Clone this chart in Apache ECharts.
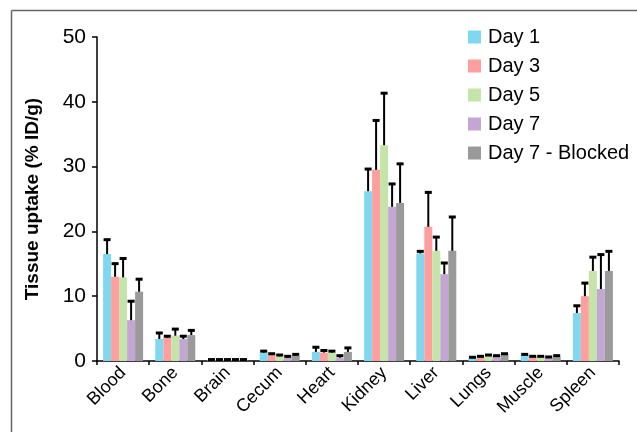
<!DOCTYPE html>
<html>
<head>
<meta charset="utf-8">
<script src="https://cdn.jsdelivr.net/npm/echarts@6/dist/echarts.min.js"></script>
<style>
html,body{margin:0;padding:0;background:#fff;}
#chart{width:637px;height:432px;}
</style>
</head>
<body>
<div id="chart"></div>
<script>
const categories = ['Blood','Bone','Brain','Cecum','Heart','Kidney','Liver','Lungs','Muscle','Spleen'];
const seriesNames = ['Day 1','Day 3','Day 5','Day 7','Day 7 - Blocked'];
const colors = ['#80d8f0','#ff9e9e','#c5e4aa','#c4a6d4','#9a9a9a'];
const day1 = [16.5, 3.4, 0.2, 1.3, 1.4, 26.2, 16.6, 0.5, 0.9, 7.4];
const day3 = [13.0, 3.6, 0.2, 0.9, 1.3, 29.5, 20.7, 0.65, 0.65, 10.0];
const day5 = [12.9, 3.9, 0.2, 0.7, 1.3, 33.3, 17.0, 0.8, 0.65, 13.9];
const day7 = [6.3, 3.4, 0.2, 0.5, 0.5, 23.8, 13.4, 0.75, 0.5, 11.1];
const day7b = [10.7, 4.0, 0.2, 0.8, 1.4, 24.4, 17.0, 1.0, 0.6, 13.9];
const day1Err = [18.8, 4.4, 0.3, 1.6, 2.2, 29.7, 17.0, 0.65, 1.1, 8.6];
const day3Err = [15.1, 3.9, 0.3, 1.2, 1.7, 37.2, 26.1, 0.8, 0.8, 12.1];
const day5Err = [15.9, 5.0, 0.3, 1.0, 1.6, 41.4, 19.2, 1.0, 0.8, 16.1];
const day7Err = [9.3, 3.9, 0.3, 0.8, 0.9, 27.4, 15.2, 0.9, 0.7, 16.5];
const day7bErr = [12.7, 4.8, 0.3, 1.1, 2.1, 30.5, 22.3, 1.2, 0.9, 17.0];
const yTicks = [0, 10, 20, 30, 40, 50];

const values = [day1, day3, day5, day7, day7b];
const errTops = [day1Err, day3Err, day5Err, day7Err, day7bErr];
const BAR_W = 8;

const chart = echarts.init(document.getElementById('chart'), null, {renderer: 'canvas'});

const barSeries = seriesNames.map((name, i) => ({
  name: name,
  type: 'bar',
  data: values[i],
  barWidth: BAR_W,
  barGap: '0%',
  itemStyle: {color: colors[i]},
  z: 2
}));

const errSeries = seriesNames.map((name, i) => ({
  type: 'custom',
  name: name + ' err',
  z: 3,
  silent: true,
  data: categories.map((c, k) => [k, values[i][k], errTops[i][k]]),
  renderItem: function (params, api) {
    const k = api.value(0);
    const base = api.coord([k, api.value(1)]);
    const top = api.coord([k, api.value(2)]);
    const x = base[0] + (i - 2) * BAR_W;
    return {
      type: 'group',
      children: [
        {type: 'line', shape: {x1: x, y1: base[1], x2: x, y2: top[1]}, style: {stroke: '#000', lineWidth: 2}},
        {type: 'rect', shape: {x: x - 3.5, y: top[1] - 1, width: 7, height: 3}, style: {fill: '#000'}}
      ]
    };
  }
}));

chart.setOption({
  animation: false,
  backgroundColor: '#fff',
  textStyle: {fontFamily: 'Liberation Sans, Arial, sans-serif'},
  graphic: [
    {type: 'line', shape: {x1: 11.5, y1: 10.5, x2: 637, y2: 10.5}, style: {stroke: '#666', lineWidth: 1.5}},
    {type: 'line', shape: {x1: 11.5, y1: 10.5, x2: 11.5, y2: 432}, style: {stroke: '#666', lineWidth: 1.5}}
  ],
  legend: {
    data: seriesNames,
    orient: 'vertical',
    left: 468,
    top: 27,
    padding: 0,
    itemWidth: 13,
    itemHeight: 13,
    itemGap: 9,
    icon: 'rect',
    textStyle: {fontSize: 20, color: '#000', fontFamily: 'Liberation Sans, Arial, sans-serif', padding: [0,0,0,2]}
  },
  grid: {left: 97, right: 18, top: 37, bottom: 71, containLabel: false},
  xAxis: {
    type: 'category',
    data: categories,
    axisLine: {lineStyle: {color: '#000', width: 1.5}},
    axisTick: {show: true, length: 4, lineStyle: {color: '#000', width: 1.5}},
    axisLabel: {rotate: 45, fontSize: 18, color: '#000', margin: 9, interval: 0}
  },
  yAxis: {
    type: 'value',
    min: 0,
    max: 50,
    interval: 10,
    name: 'Tissue uptake (% ID/g)',
    nameLocation: 'middle',
    nameGap: 55,
    nameTextStyle: {fontSize: 19, fontWeight: 'bold', color: '#000'},
    axisLine: {show: true, lineStyle: {color: '#000', width: 1.5}},
    axisTick: {show: true, inside: false, length: 5, lineStyle: {color: '#000', width: 1.5}},
    axisLabel: {fontSize: 21, color: '#000', margin: 11, formatter: v => yTicks.includes(v) ? String(v) : ''},
    splitLine: {show: false}
  },
  series: barSeries.concat(errSeries)
});
</script>
</body>
</html>
